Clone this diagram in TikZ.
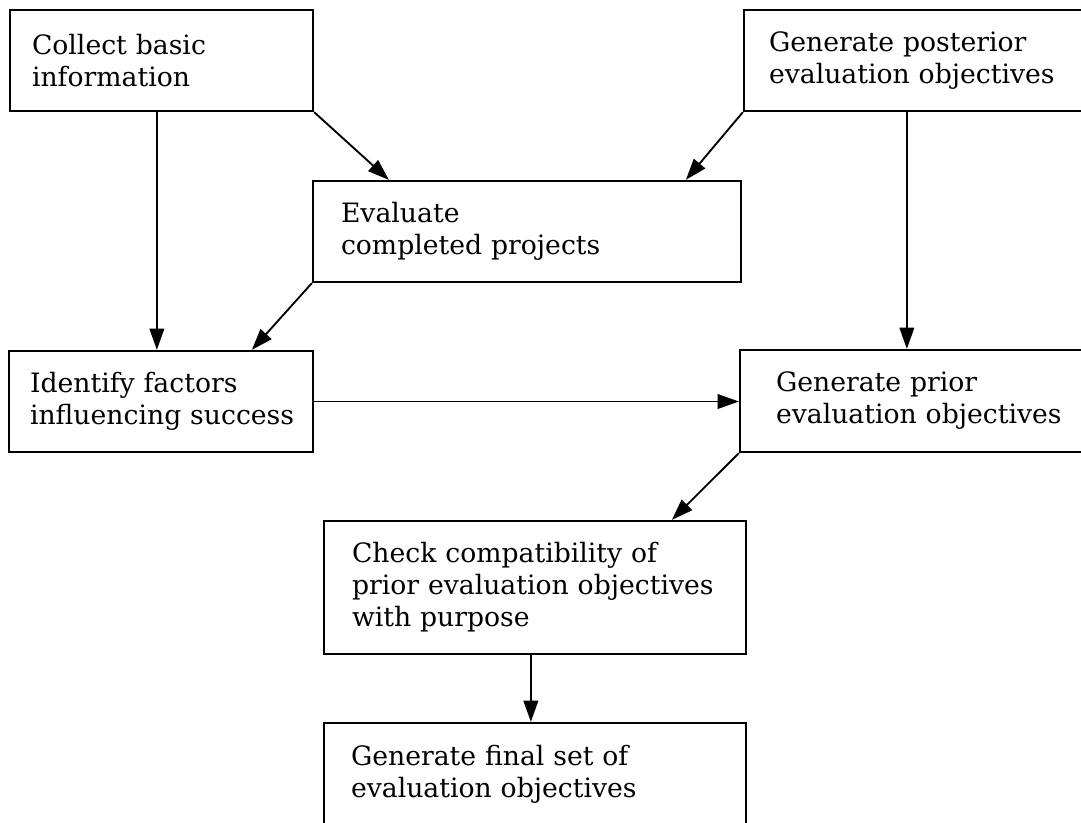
\documentclass[tikz,border=0pt]{standalone}
\usepackage{fontspec}
\setmainfont{DejaVu Serif}
\usetikzlibrary{arrows.meta,calc}
\hyphenpenalty=10000
\exhyphenpenalty=10000
\begin{document}
\begin{tikzpicture}[x=0.75pt,y=-0.75pt,
  box/.style={draw, line width=1.7pt, rectangle, align=left,
    font=\fontsize{20}{24}\selectfont, inner ysep=0pt},
  arr/.style={line width=1.4pt, -{Triangle[length=16pt,width=11pt]}}]
\useasboundingbox (0,0) rectangle (1081,822);
\fill[white] (0,0) rectangle (1081,822);
\clip (0,0) rectangle (1081,822);
\node[box, minimum width=227.25pt, minimum height=75.75pt, inner xsep=16.5pt, text width=194.25pt]
  (b1) at (161.5,60.5) {Collect~basic\\information};
\node[box, minimum width=259.5pt, minimum height=75.75pt, inner xsep=18.75pt, text width=222pt]
  (b2) at (917,60.5) {Generate~posterior\\evaluation~objectives};
\node[box, minimum width=321pt, minimum height=75.75pt, inner xsep=21pt, text width=279pt]
  (b3) at (527,231.5) {Evaluate\\completed~projects};
\node[box, minimum width=228pt, minimum height=75.75pt, inner xsep=15.75pt, text width=196.5pt]
  (b4) at (161,401.5) {Identify~factors\\influencing~success};
\node[box, minimum width=262.5pt, minimum height=76.5pt, inner xsep=27pt, text width=208.5pt]
  (b5) at (915,401) {Generate~prior\\\mbox{evaluation~objectives}};
\node[box, minimum width=316.5pt, minimum height=99.75pt, inner xsep=21pt, text width=274.5pt]
  (b6) at (535,587.5) {Check~compatibility~of\\\mbox{prior~evaluation~objectives}\\with~purpose};
\node[box, minimum width=316.5pt, minimum height=76.5pt, inner xsep=20.25pt, text width=276pt]
  (b7) at (535,774) {Generate~final~set~of\\evaluation~objectives};
% connectors
\draw[arr] (b1.south east) -- ($(b3.north west)+(77,0)$);
\draw[arr] ($(b1.south west)+(148,0)$) coordinate (p1) -- (p1 |- b4.north);
\draw[arr] (b2.south west) -- ($(b3.north west)+(374,0)$);
\draw[arr] ($(b2.south west)+(164,0)$) coordinate (p2) -- (p2 |- b5.north);
\draw[arr] (b3.south west) -- ($(b4.north west)+(244,0)$);
\draw[arr] (b4.east) -- (b4.east -| b5.west);
\draw[arr] (b5.south west) -- ($(b6.north west)+(349,0)$);
\draw[arr] ($(b6.south west)+(208,0)$) coordinate (p3) -- (p3 |- b7.north);
\end{tikzpicture}
\end{document}
